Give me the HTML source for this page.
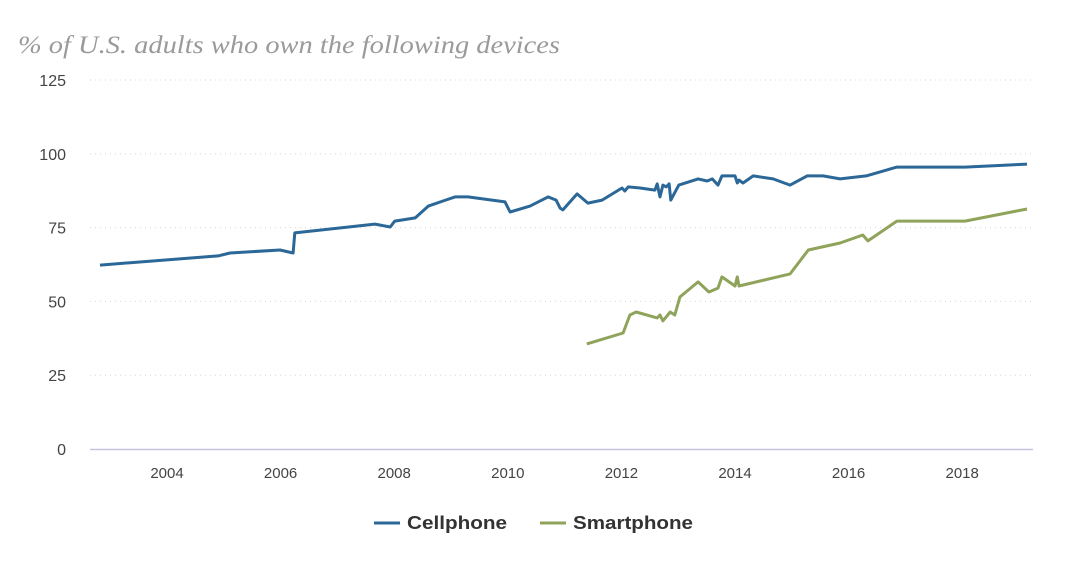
<!DOCTYPE html>
<html><head><meta charset="utf-8"><style>
body{margin:0;background:#fff;}
svg{display:block;font-family:"Liberation Sans",sans-serif;}
</style></head><body>
<svg id="c" width="1080" height="563">
<text x="18" y="53" font-family="Liberation Serif,serif" font-style="italic" font-size="25" fill="#9a9a9a" textLength="542" lengthAdjust="spacingAndGlyphs">% of U.S. adults who own the following devices</text>
<g id="grid"></g><g id="axes"></g><g id="series"></g>
<g>
<line x1="374" y1="523" x2="400" y2="523" stroke="#2b6797" stroke-width="3"/>
<text x="407" y="529" font-size="18" font-weight="bold" fill="#333" textLength="100" lengthAdjust="spacingAndGlyphs">Cellphone</text>
<line x1="540" y1="523" x2="566" y2="523" stroke="#8fa35a" stroke-width="3"/>
<text x="573" y="529" font-size="18" font-weight="bold" fill="#333" textLength="120" lengthAdjust="spacingAndGlyphs">Smartphone</text>
</g>
</svg>
<script>
const yTicks=[0,25,50,75,100,125];
const xTicks=[2004,2006,2008,2010,2012,2014,2016,2018];
const cellYears=[2002.82,2004.90,2005.11,2005.99,2006.22,2006.25,2007.66,2007.93,2008.01,2008.37,2008.60,2008.86,2009.07,2009.30,2009.95,2010.04,2010.39,2010.71,2010.85,2010.92,2010.97,2011.22,2011.41,2011.66,2012.01,2012.06,2012.12,2012.33,2012.59,2012.63,2012.68,2012.73,2012.79,2012.84,2012.87,2013.01,2013.35,2013.51,2013.60,2013.70,2013.77,2014.00,2014.04,2014.07,2014.14,2014.32,2014.67,2014.97,2015.27,2015.55,2015.85,2016.31,2016.85,2018.05,2019.14];
const cellValues=[62.3,65.4,66.4,67.4,66.4,73.2,76.2,75.2,77.2,78.3,82.3,84.0,85.4,85.4,83.7,80.3,82.3,85.4,84.3,81.6,81.0,86.4,83.3,84.3,88.4,87.4,88.8,88.4,87.7,89.8,85.4,89.4,88.8,89.8,84.3,89.4,91.5,90.8,91.5,89.4,92.5,92.5,90.1,91.1,90.1,92.5,91.5,89.4,92.5,92.5,91.5,92.5,95.5,95.5,96.5];
const smartYears=[2011.39,2012.03,2012.15,2012.26,2012.63,2012.68,2012.73,2012.86,2012.94,2013.03,2013.35,2013.54,2013.70,2013.77,2014.00,2014.04,2014.07,2014.97,2015.29,2015.85,2016.25,2016.34,2016.85,2018.05,2019.14];
const smartValues=[35.6,39.3,45.4,46.4,44.4,45.4,43.4,46.4,45.4,51.5,56.6,53.2,54.5,58.3,55.2,58.3,55.2,59.3,67.4,69.8,72.5,70.5,77.2,77.2,81.3];
const NS="http://www.w3.org/2000/svg";
const x=v=>167+(v-2004)*56.8;
const y=v=>449-v*2.952;
function mk(tag,attrs,parent,txt){const e=document.createElementNS(NS,tag);for(const k in attrs)e.setAttribute(k,attrs[k]);if(txt!=null)e.textContent=txt;document.getElementById(parent).appendChild(e);return e;}
yTicks.forEach(t=>{
  if(t>0){const l=mk('line',{x1:90,x2:1033,y1:y(t),y2:y(t),stroke:'#d6d6d6','stroke-dasharray':'1 4'},'grid');
  
  }
  const tx=mk('text',{x:66,y:y(t)+6,'text-anchor':'end','font-size':'16',fill:'#444'},'axes',t);
  
  
});
const ax=mk('line',{x1:90,x2:1033,y1:449.5,y2:449.5,stroke:'#c8c4e0','stroke-width':1.5},'axes');


xTicks.forEach(t=>{
  const tx=mk('text',{x:x(t),y:478,'text-anchor':'middle','font-size':'15',fill:'#444'},'axes',t);
  
  
});
function line(xs,vs,color,name){
  const d=xs.map((v,i)=>(i?'L':'M')+x(v).toFixed(1)+','+y(vs[i]).toFixed(1)).join('');
  const p=mk('path',{d:d,fill:'none',stroke:color,'stroke-width':3,'stroke-linejoin':'round'},'series');
  
  
}
line(cellYears,cellValues,'#2b6797','cellphone-line');
line(smartYears,smartValues,'#8fa35a','smartphone-line');
</script>
</body></html>
